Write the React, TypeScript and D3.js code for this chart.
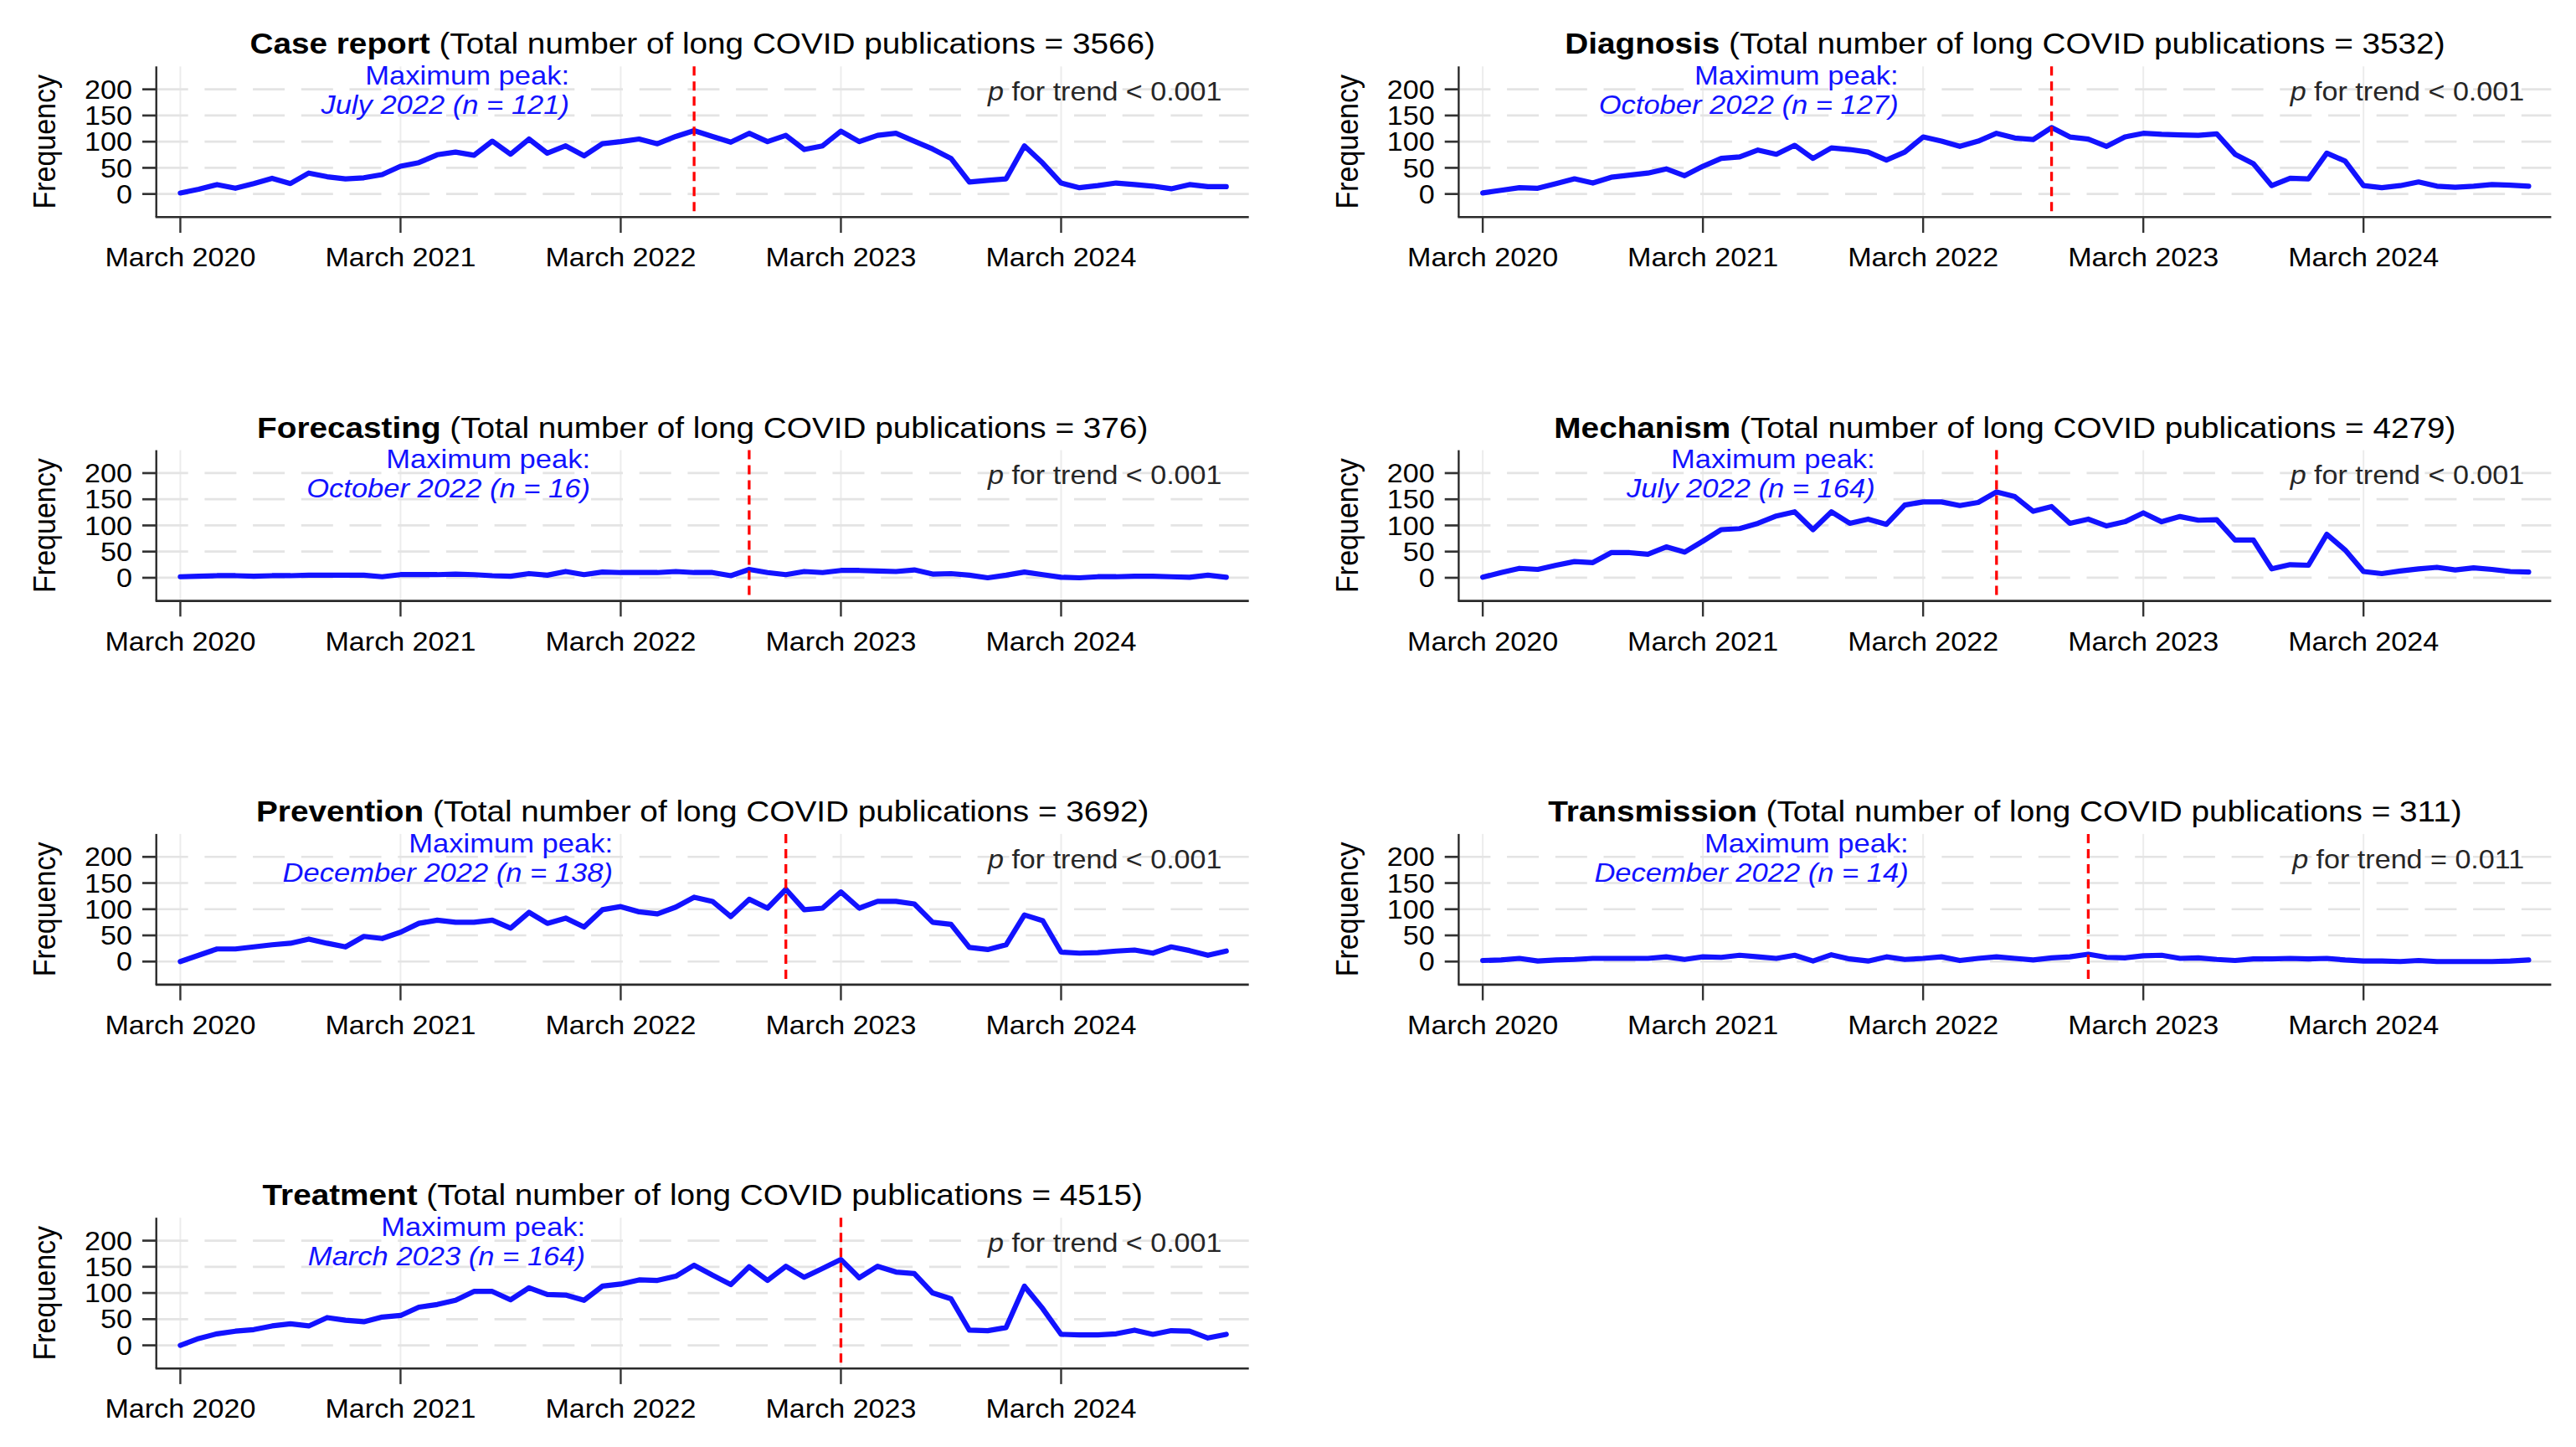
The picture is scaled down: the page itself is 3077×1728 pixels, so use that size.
import React, { useEffect } from "react";
import * as d3 from "d3";

// ---------- data ----------
const panelNames = ["Case report", "Diagnosis", "Forecasting", "Mechanism", "Prevention", "Transmission", "Treatment"];
const panelTotals = [3566, 3532, 376, 4279, 3692, 311, 4515];
const pTrendTexts = ["< 0.001", "< 0.001", "< 0.001", "< 0.001", "< 0.001", "= 0.011", "< 0.001"];
const tickLabels = ["March 2020", "March 2021", "March 2022", "March 2023", "March 2024"];
const yTickValues = [0, 50, 100, 150, 200];

const caseReport = [2, 9, 18, 11, 20, 30, 20, 40, 33, 29, 31, 37, 53, 60, 75, 80, 74, 101, 76, 105, 78, 92, 73, 96, 100, 105, 96, 110, 121, 110, 99, 116, 100, 112, 85, 92, 120, 100, 112, 116, 101, 86, 68, 23, 26, 29, 92, 59, 21, 12, 16, 21, 18, 15, 10, 18, 14, 14];
const diagnosis = [2, 7, 12, 11, 20, 29, 21, 32, 36, 40, 48, 35, 53, 68, 71, 84, 76, 93, 68, 88, 85, 80, 65, 80, 109, 101, 91, 101, 116, 107, 104, 127, 109, 105, 91, 109, 116, 114, 113, 112, 115, 76, 58, 16, 30, 29, 78, 63, 16, 12, 16, 23, 15, 13, 15, 18, 17, 15];
const forecasting = [2, 3, 4, 4, 3, 4, 4, 5, 5, 5, 5, 2, 6, 6, 6, 7, 6, 4, 3, 8, 5, 12, 6, 11, 10, 10, 10, 12, 10, 10, 4, 16, 10, 6, 12, 10, 14, 14, 13, 12, 15, 7, 8, 5, 0, 5, 11, 6, 1, 0, 2, 2, 3, 3, 2, 1, 5, 1];
const mechanism = [1, 10, 18, 16, 24, 31, 29, 48, 48, 45, 59, 49, 70, 92, 94, 104, 118, 126, 92, 126, 104, 112, 102, 139, 145, 145, 138, 144, 164, 155, 127, 136, 104, 112, 99, 107, 124, 107, 117, 110, 111, 72, 72, 17, 25, 24, 83, 53, 12, 8, 13, 17, 20, 15, 19, 16, 12, 11];
const prevention = [0, 12, 24, 24, 28, 32, 35, 43, 35, 28, 48, 44, 56, 73, 79, 75, 75, 79, 64, 94, 73, 83, 66, 99, 105, 95, 91, 104, 123, 115, 86, 119, 102, 138, 99, 102, 133, 102, 115, 115, 110, 75, 71, 27, 23, 32, 89, 78, 18, 16, 17, 20, 22, 16, 28, 21, 12, 20];
const transmission = [2, 3, 6, 1, 3, 4, 6, 6, 6, 6, 9, 4, 9, 8, 12, 9, 6, 12, 1, 13, 5, 1, 9, 4, 6, 9, 2, 6, 9, 6, 3, 7, 9, 14, 8, 7, 11, 12, 6, 7, 4, 2, 5, 5, 6, 5, 6, 3, 1, 1, 0, 2, 0, 0, 0, 0, 1, 3];
const treatment = [0, 13, 22, 27, 30, 37, 41, 37, 53, 48, 45, 54, 57, 73, 78, 86, 103, 103, 87, 110, 97, 96, 86, 113, 117, 125, 124, 132, 153, 134, 116, 150, 124, 151, 130, 147, 164, 129, 151, 140, 137, 100, 89, 29, 28, 34, 113, 70, 21, 20, 20, 22, 29, 21, 28, 27, 14, 21];

const seriesList = [caseReport, diagnosis, forecasting, mechanism, prevention, transmission, treatment];

// months March 2020 .. December 2024
const months = d3.timeMonth.range(new Date(2020, 2, 1), new Date(2025, 0, 1));
const fmtMonth = d3.timeFormat("%B %Y");

// ---------- layout ----------
const W = 3077;
const H = 1728;
const COL_DX = 1555.7;
const ROW_DY = 458.3;
const peakLabelRight = [680, 712, 705, 684, 732, 724, 699];
const FONT = "'Liberation Sans', Arial, Helvetica, sans-serif";
const SX = 1.1;
const FS = 31;

const PX0 = 186.7;
const PX1 = 1491.7;
const PY0 = 79.3;
const PY1 = 259.3;

function Panel({ k }: { k: number }) {
  const values = seriesList[k];
  const ox = (k % 2) * COL_DX;
  const oy = Math.floor(k / 2) * ROW_DY;

  const x = d3.scaleLinear().domain([-1.31, 58.23]).range([PX0, PX1]);
  const y = d3.scaleLinear().domain([-44.2, 243.8]).range([PY1, PY0]);

  const line = d3
    .line<number>()
    .x((_, i) => x(i))
    .y((d) => y(d));

  const peakIdx = d3.maxIndex(values);
  const peakVal = values[peakIdx];
  const peakLabel = fmtMonth(months[peakIdx]);

  const tickIdx = tickLabels.map((t) => months.findIndex((m) => fmtMonth(m) === t));
  const lr = peakLabelRight[k];

  return (
    <g transform={`translate(${ox},${oy})`} fontFamily={FONT}>
      {tickIdx.map((ti, j) => (
        <line key={"vg" + j} x1={x(ti)} x2={x(ti)} y1={PY0} y2={PY1} stroke="#ececec" strokeWidth={2} />
      ))}
      {yTickValues.map((v) => (
        <line key={"hg" + v} x1={PX0} x2={PX1} y1={y(v)} y2={y(v)} stroke="#e4e4e4" strokeWidth={2.7} strokeDasharray="38 19.7" />
      ))}
      <path d={line(values) || ""} fill="none" stroke="#1212ff" strokeWidth={6.2} strokeLinejoin="round" strokeLinecap="round" />
      <line x1={x(peakIdx)} x2={x(peakIdx)} y1={PY0} y2={PY1} stroke="#ff0000" strokeWidth={3.3} strokeDasharray="11 7" />
      <line x1={PX0} x2={PX0} y1={PY0} y2={PY1} stroke="#222" strokeWidth={2.3} />
      <line x1={PX0 - 1} x2={PX1} y1={PY1} y2={PY1} stroke="#2a2a2a" strokeWidth={2.6} />
      {yTickValues.map((v) => (
        <g key={"yt" + v}>
          <line x1={170} x2={PX0} y1={y(v)} y2={y(v)} stroke="#333" strokeWidth={2.7} />
          <text transform={`translate(158,${y(v) + 0.358 * FS}) scale(${SX},1)`} textAnchor="end" fontSize={FS} fill="#000">
            {v}
          </text>
        </g>
      ))}
      {tickIdx.map((ti, j) => (
        <g key={"xt" + j}>
          <line x1={x(ti)} x2={x(ti)} y1={PY1} y2={278} stroke="#333" strokeWidth={2.4} />
          <text transform={`translate(${x(ti)},318.3) scale(${SX},1)`} textAnchor="middle" fontSize={FS} fill="#000">
            {tickLabels[j]}
          </text>
        </g>
      ))}
      <text transform={`translate(66,${(PY0 + PY1) / 2}) scale(${SX},1) rotate(-90)`} textAnchor="middle" fontSize={34} fill="#000">
        Frequency
      </text>
      <text transform={`translate(${(PX0 + PX1) / 2},64.3) scale(${SX},1)`} textAnchor="middle" fontSize={35.2} fill="#000" style={{ whiteSpace: "pre" }}>
        <tspan fontWeight="bold">{panelNames[k]}</tspan>
        <tspan>{` (Total number of long COVID publications = ${panelTotals[k]})`}</tspan>
      </text>
      <text transform={`translate(${lr},101) scale(${SX},1)`} textAnchor="end" fontSize={31.4} fill="#1212ff">
        Maximum peak:
      </text>
      <text transform={`translate(${lr},136) scale(${SX},1)`} textAnchor="end" fontSize={31.4} fill="#1212ff" fontStyle="italic">
        {`${peakLabel} (n = ${peakVal})`}
      </text>
      <text transform={`translate(1459.5,120) scale(${SX},1)`} textAnchor="end" fontSize={FS} fill="#262626" style={{ whiteSpace: "pre" }}>
        <tspan fontStyle="italic">p</tspan>
        <tspan>{` for trend ${pTrendTexts[k]}`}</tspan>
      </text>
    </g>
  );
}

export default function App() {
  useEffect(() => {
    document.body.style.margin = "0";
  }, []);
  return (
    <div style={{ position: "absolute", left: 0, top: 0 }}>
      <svg width={W} height={H} style={{ display: "block" }}>
        <rect x={0} y={0} width={W} height={H} fill="#fff" />
        {seriesList.map((_, k) => (
          <Panel key={k} k={k} />
        ))}
      </svg>
    </div>
  );
}
